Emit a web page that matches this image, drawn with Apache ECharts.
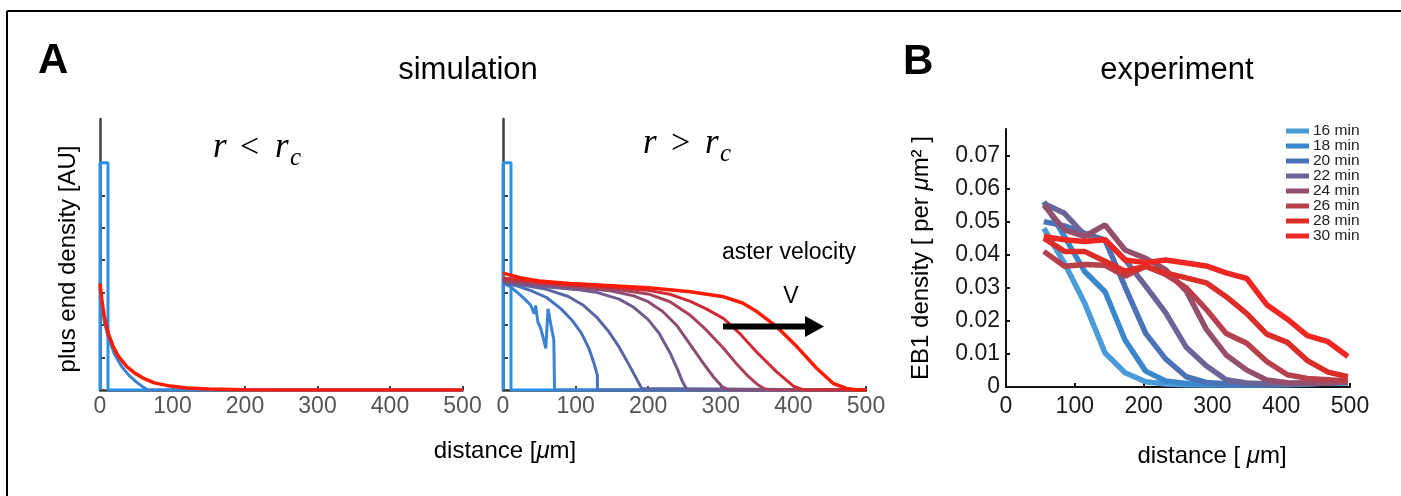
<!DOCTYPE html>
<html><head><meta charset="utf-8">
<script src="https://cdn.jsdelivr.net/npm/echarts@6/dist/echarts.min.js"></script>
<style>html,body{margin:0;padding:0;background:#fff}#c{width:1401px;height:496px}</style>
</head><body><div id="c"></div>
<script>
// ---------------- DATA ----------------
// Panel A (simulation), x = distance [um], y = plus end density [AU]
const yTicksA = [0, 1, 2, 3, 4, 5, 6, 7];
const initialStep = [[0,0],[0,7],[11,7],[11,0],[500,0]];
// left: r < rc
const leftBlue = [[0,3.1],[6,2.1],[11.5,1.6],[20,1.1],[30,0.72],[40,0.45],[50,0.25],[60,0.08],[66,0],[500,0]];
const leftRed = [[0,3.28],[3,2.7],[6,2.25],[11.5,1.74],[18,1.35],[25,1.05],[37,0.72],[48,0.52],[60,0.36],[75,0.22],[97,0.12],[120,0.06],[150,0.03],[200,0.01],[250,0],[500,0]];
// right: r > rc, successive time points
const rightT1 = [[0,3.3],[10,3.18],[20,3.0],[30,2.8],[38,2.62],[43,2.35],[45,2.6],[48,2.1],[52,1.9],[56,1.55],[59,1.28],[62,2.5],[66,2.0],[70,1.55],[71,0],[500,0]];
const rightT2 = [[0,3.3],[20,3.2],[40,3.05],[60,2.85],[80,2.5],[95,2.15],[108,1.75],[118,1.3],[125,0.85],[130,0.45],[130,0],[500,0]];
const rightT3 = [[0,3.3],[30,3.22],[60,3.1],[90,2.88],[110,2.62],[130,2.22],[145,1.82],[160,1.32],[175,0.72],[185,0.3],[191,0.05],[193,0],[500,0]];
const rightT4 = [[0,3.32],[50,3.2],[100,3.1],[130,3.0],[160,2.8],[180,2.55],[200,2.17],[215,1.75],[230,1.15],[240,0.65],[248,0.22],[253,0.03],[256,0],[500,0]];
const rightT5 = [[0,3.35],[50,3.25],[100,3.16],[150,3.05],[180,2.9],[200,2.72],[220,2.42],[240,1.97],[258,1.4],[275,0.85],[290,0.4],[302,0.1],[310,0.01],[314,0],[500,0]];
const rightT6 = [[0,3.4],[50,3.3],[100,3.2],[150,3.12],[200,2.96],[230,2.72],[258,2.3],[280,1.85],[304,1.28],[320,0.85],[336,0.46],[350,0.18],[360,0.04],[368,0],[500,0]];
const rightT7 = [[0,3.45],[50,3.32],[100,3.23],[150,3.16],[200,3.07],[230,2.95],[258,2.73],[280,2.5],[304,2.2],[327,1.72],[349,1.18],[377,0.56],[400,0.12],[412,0.02],[418,0],[500,0]];
const rightT8 = [[0,3.6],[25,3.45],[50,3.36],[100,3.27],[150,3.21],[200,3.15],[258,3.03],[304,2.87],[330,2.68],[350,2.41],[377,1.95],[405,1.33],[432,0.67],[455,0.2],[473,0.05],[485,0.01],[496,0],[500,0]];

// Panel B (experiment)
const timesB = ['16 min','18 min','20 min','22 min','24 min','26 min','28 min','30 min'];
const distB = [55,85,114,144,173,203,232,262,291,320,350,379,409,438,468,497];
const eb1_16 = [0.048,0.0374,0.0255,0.0103,0.0043,0.0016,0.0009,0.0007,0.0006,0.0006,0.0006,0.0006,0.0007,0.0009,0.0012,0.0012];
const eb1_18 = [0.056,0.0455,0.035,0.0288,0.0142,0.0048,0.0018,0.0011,0.0009,0.0008,0.0008,0.0008,0.0009,0.001,0.0012,0.0013];
const eb1_20 = [0.050,0.0487,0.0465,0.0444,0.0303,0.0162,0.0085,0.0031,0.0014,0.001,0.0009,0.0009,0.001,0.0011,0.0013,0.0015];
const eb1_22 = [0.0555,0.0525,0.046,0.0445,0.0385,0.0305,0.0225,0.012,0.0064,0.0022,0.0012,0.001,0.001,0.0011,0.0013,0.0015];
const eb1_24 = [0.055,0.0475,0.0455,0.049,0.0414,0.0389,0.0355,0.029,0.0175,0.0097,0.0051,0.0021,0.0013,0.0012,0.0013,0.0015];
const eb1_26 = [0.041,0.0365,0.037,0.0368,0.0335,0.0365,0.034,0.030,0.0235,0.0162,0.0132,0.0077,0.0037,0.0026,0.0022,0.0018];
const eb1_28 = [0.045,0.041,0.041,0.038,0.035,0.0365,0.0345,0.033,0.0315,0.0273,0.0222,0.016,0.0135,0.008,0.0045,0.0031];
const eb1_30 = [0.0455,0.0445,0.044,0.0445,0.0384,0.0376,0.0384,0.0375,0.0366,0.0345,0.0328,0.0249,0.0205,0.0155,0.0137,0.0092];
const yTicksB = [0,0.01,0.02,0.03,0.04,0.05,0.06,0.07];

// ---------------- STYLE ----------------
const FONT = "'Liberation Sans', Arial, Helvetica, sans-serif";
const SERIF = "'Liberation Serif', 'Times New Roman', serif";
const rightColors = ['#3a82d2','#4872bb','#5a67a5','#6e5d8e','#8b4d73','#a84259','#d02b34','#ff1a00'];
const bColors = ['#4b9bd9','#3b87cc','#4a72b6','#6c6598','#934f6c','#b7404d','#dc2e28','#ee2722'];
const rightCurves = [rightT1,rightT2,rightT3,rightT4,rightT5,rightT6,rightT7,rightT8];
const bSeries = [eb1_16,eb1_18,eb1_20,eb1_22,eb1_24,eb1_26,eb1_28,eb1_30];

const axA = '#404040';
function xAxisA(gi){
  return {gridIndex:gi,type:'value',min:0,max:500,interval:100,
    axisLine:{show:true,onZero:false,lineStyle:{color:axA,width:2.5}},
    axisTick:{show:true,inside:true,length:4,lineStyle:{color:axA,width:2}},
    axisLabel:{color:'#555',fontSize:23,fontFamily:FONT,margin:5},
    splitLine:{show:false}};
}
function yAxisA(gi){
  return {gridIndex:gi,type:'value',min:0,max:8.35,
    axisLine:{show:true,onZero:false,lineStyle:{color:axA,width:2.5}},
    axisTick:{show:true,inside:true,length:5,customValues:yTicksA,lineStyle:{color:axA,width:2}},
    axisLabel:{show:false},splitLine:{show:false}};
}
function lineS(name,data,xi,color,width,z){
  return {name:name,type:'line',xAxisIndex:xi,yAxisIndex:xi,data:data,showSymbol:false,symbol:'none',
    lineStyle:{color:color,width:width},itemStyle:{color:color},z:z,silent:true,animation:false};
}

const series = [];
series.push(lineS('stepL',initialStep,0,'#2b8fe3',3,2));
series.push(lineS('blueL',leftBlue,0,'#3a82d2',3,3));
series.push(lineS('redL',leftRed,0,'#ff1a00',3.5,4));
series.push(lineS('stepR',initialStep,1,'#2b8fe3',3,2));
rightCurves.forEach((d,i)=>series.push(lineS('r'+i,d,1,rightColors[i],i===7?3.5:3,3+i)));
bSeries.forEach((v,i)=>{
  series.push(lineS(timesB[i],distB.map((x,j)=>[x,v[j]]),2,bColors[i],5.5,3+i));
});

const option = {
  animation:false,
  backgroundColor:'#fff',
  grid:[
    {left:100,top:119,width:362.5,height:271,outerBoundsMode:'none'},
    {left:503,top:119,width:363,height:271,outerBoundsMode:'none'},
    {left:1006,top:129,width:344,height:258,outerBoundsMode:'none'}
  ],
  xAxis:[xAxisA(0),xAxisA(1),
    {gridIndex:2,type:'value',min:0,max:500,interval:100,
     axisLine:{show:true,onZero:false,lineStyle:{color:'#111',width:2}},
     axisTick:{show:true,inside:true,length:4,lineStyle:{color:'#111',width:2}},
     axisLabel:{color:'#1a1a1a',fontSize:23,fontFamily:FONT,margin:8},
     splitLine:{show:false}}],
  yAxis:[yAxisA(0),yAxisA(1),
    {gridIndex:2,type:'value',min:0,max:0.078,
     axisLine:{show:true,onZero:false,lineStyle:{color:'#111',width:2}},
     axisTick:{show:true,inside:true,length:4,customValues:yTicksB,lineStyle:{color:'#111',width:2}},
     axisLabel:{color:'#1a1a1a',fontSize:23,fontFamily:FONT,margin:6,customValues:yTicksB,
       formatter:v=>v===0?'0':v.toFixed(2)},
     splitLine:{show:false}}],
  legend:{data:timesB,orient:'vertical',left:1286,top:123,padding:0,itemWidth:23,itemHeight:5,itemGap:-1,icon:'rect',
    selectedMode:false,textStyle:{fontSize:15.5,color:'#222',fontFamily:FONT,lineHeight:15,padding:[0,0,0,-1]}},
  series:series,
  graphic:[
    {type:'line',shape:{x1:7,y1:11,x2:1401,y2:11},style:{stroke:'#000',lineWidth:2}},
    {type:'line',shape:{x1:7,y1:11,x2:7,y2:496},style:{stroke:'#000',lineWidth:2}},
    {type:'text',x:38,y:61,style:{text:'A',fontSize:42,fontWeight:'bold',fontFamily:FONT,fill:'#000',align:'left',verticalAlign:'middle',textAlign:'left',textVerticalAlign:'middle'}},
    {type:'text',x:903,y:62,style:{text:'B',fontSize:42,fontWeight:'bold',fontFamily:FONT,fill:'#000',align:'left',verticalAlign:'middle',textAlign:'left',textVerticalAlign:'middle'}},
    {type:'text',x:468,y:70,style:{text:'simulation',fontSize:31,fontFamily:FONT,fill:'#000',align:'center',verticalAlign:'middle',textAlign:'center',textVerticalAlign:'middle'}},
    {type:'text',x:1177,y:70,style:{text:'experiment',fontSize:31,fontFamily:FONT,fill:'#000',align:'center',verticalAlign:'middle',textAlign:'center',textVerticalAlign:'middle'}},
    // r < r_c
    {type:'text',x:213,y:148,style:{text:'r',fontSize:35,fontStyle:'italic',fontFamily:SERIF,fill:'#000',align:'left',verticalAlign:'middle',textAlign:'left',textVerticalAlign:'middle'}},
    {type:'text',x:240,y:148,style:{text:'<',fontSize:34,fontFamily:SERIF,fill:'#000',align:'left',verticalAlign:'middle',textAlign:'left',textVerticalAlign:'middle'}},
    {type:'text',x:275,y:148,style:{text:'r',fontSize:35,fontStyle:'italic',fontFamily:SERIF,fill:'#000',align:'left',verticalAlign:'middle',textAlign:'left',textVerticalAlign:'middle'}},
    {type:'text',x:290,y:158,style:{text:'c',fontSize:25,fontStyle:'italic',fontFamily:SERIF,fill:'#000',align:'left',verticalAlign:'middle',textAlign:'left',textVerticalAlign:'middle'}},
    // r > r_c
    {type:'text',x:643,y:144,style:{text:'r',fontSize:35,fontStyle:'italic',fontFamily:SERIF,fill:'#000',align:'left',verticalAlign:'middle',textAlign:'left',textVerticalAlign:'middle'}},
    {type:'text',x:671,y:144,style:{text:'>',fontSize:34,fontFamily:SERIF,fill:'#000',align:'left',verticalAlign:'middle',textAlign:'left',textVerticalAlign:'middle'}},
    {type:'text',x:705,y:144,style:{text:'r',fontSize:35,fontStyle:'italic',fontFamily:SERIF,fill:'#000',align:'left',verticalAlign:'middle',textAlign:'left',textVerticalAlign:'middle'}},
    {type:'text',x:720,y:154,style:{text:'c',fontSize:25,fontStyle:'italic',fontFamily:SERIF,fill:'#000',align:'left',verticalAlign:'middle',textAlign:'left',textVerticalAlign:'middle'}},
    // axis titles
    {type:'text',x:68,y:259,rotation:Math.PI/2,style:{text:'plus end density [AU]',fontSize:24,fontFamily:FONT,fill:'#000',align:'center',verticalAlign:'middle',textAlign:'center',textVerticalAlign:'middle'}},
    {type:'text',x:505,y:451,style:{text:'{a|distance [}{m|μ}{a|m]}',fontSize:24,fontFamily:FONT,fill:'#000',align:'center',verticalAlign:'middle',textAlign:'center',textVerticalAlign:'middle',
      rich:{a:{fontSize:24,fontFamily:FONT,fill:'#000'},m:{fontSize:24,fontFamily:FONT,fontStyle:'italic',fill:'#000'}}}},
    {type:'text',x:921,y:258,rotation:Math.PI/2,style:{text:'{a|EB1 density [ per }{m|μ}{a|m² ]}',fontSize:24,fontFamily:FONT,fill:'#000',align:'center',verticalAlign:'middle',textAlign:'center',textVerticalAlign:'middle',
      rich:{a:{fontSize:24,fontFamily:FONT,fill:'#000'},m:{fontSize:24,fontFamily:FONT,fontStyle:'italic',fill:'#000'}}}},
    {type:'text',x:1212,y:456,style:{text:'{a|distance [ }{m|μ}{a|m]}',fontSize:24,fontFamily:FONT,fill:'#000',align:'center',verticalAlign:'middle',textAlign:'center',textVerticalAlign:'middle',
      rich:{a:{fontSize:24,fontFamily:FONT,fill:'#000'},m:{fontSize:24,fontFamily:FONT,fontStyle:'italic',fill:'#000'}}}},
    // annotation
    {type:'text',x:789,y:253,style:{text:'aster velocity',fontSize:23,fontFamily:FONT,fill:'#000',align:'center',verticalAlign:'middle',textAlign:'center',textVerticalAlign:'middle'}},
    {type:'text',x:791,y:297,style:{text:'V',fontSize:23,fontFamily:FONT,fill:'#000',align:'center',verticalAlign:'middle',textAlign:'center',textVerticalAlign:'middle'}},
    {type:'line',z:100,shape:{x1:723,y1:326.5,x2:807,y2:326.5},style:{stroke:'#000',lineWidth:6}},
    {type:'polygon',z:100,shape:{points:[[805,316],[824,326.5],[805,337]]},style:{fill:'#000'}}
  ]
};
const chart = echarts.init(document.getElementById('c'),null,{renderer:'canvas'});
chart.setOption(option);
</script></body></html>
